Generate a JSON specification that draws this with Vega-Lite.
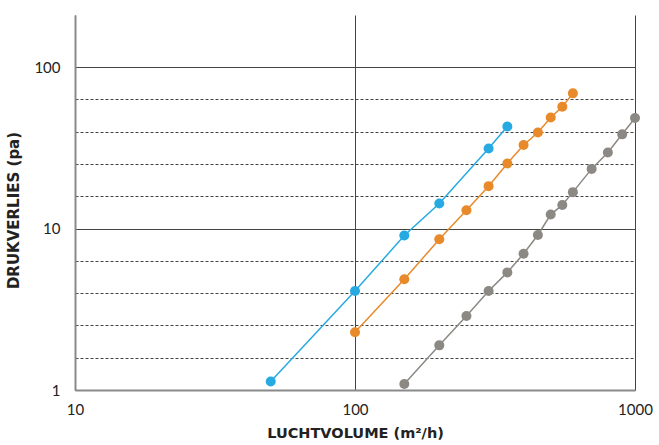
{
  "$schema": "https://vega.github.io/schema/vega-lite/v6.json",
  "width": 560,
  "height": 375,
  "autosize": "none",
  "padding": {"left": 75, "top": 15, "right": 24, "bottom": 55},
  "background": "white",
  "config": {"view": {"stroke": null}, "font": "Lato"},
  "data": {"values": [
    {"series": "A", "flow": 50, "dp": 1.13},
    {"series": "A", "flow": 100, "dp": 4.1},
    {"series": "A", "flow": 150, "dp": 9.05},
    {"series": "A", "flow": 200, "dp": 14.3},
    {"series": "A", "flow": 300, "dp": 31.3},
    {"series": "A", "flow": 350, "dp": 42.8},
    {"series": "B", "flow": 100, "dp": 2.28},
    {"series": "B", "flow": 150, "dp": 4.85},
    {"series": "B", "flow": 200, "dp": 8.57},
    {"series": "B", "flow": 250, "dp": 12.97},
    {"series": "B", "flow": 300, "dp": 18.3},
    {"series": "B", "flow": 350, "dp": 25.3},
    {"series": "B", "flow": 400, "dp": 32.9},
    {"series": "B", "flow": 450, "dp": 39.3},
    {"series": "B", "flow": 500, "dp": 48.7},
    {"series": "B", "flow": 550, "dp": 56.8},
    {"series": "B", "flow": 600, "dp": 68.7},
    {"series": "C", "flow": 150, "dp": 1.09},
    {"series": "C", "flow": 200, "dp": 1.89},
    {"series": "C", "flow": 250, "dp": 2.87},
    {"series": "C", "flow": 300, "dp": 4.1},
    {"series": "C", "flow": 350, "dp": 5.35},
    {"series": "C", "flow": 400, "dp": 6.98},
    {"series": "C", "flow": 450, "dp": 9.12},
    {"series": "C", "flow": 500, "dp": 12.2},
    {"series": "C", "flow": 550, "dp": 14.0},
    {"series": "C", "flow": 600, "dp": 16.8},
    {"series": "C", "flow": 700, "dp": 23.4},
    {"series": "C", "flow": 800, "dp": 29.6},
    {"series": "C", "flow": 900, "dp": 38.3},
    {"series": "C", "flow": 1000, "dp": 48.3}
  ]},
  "encoding": {
    "x": {
      "field": "flow", "type": "quantitative",
      "scale": {"type": "log", "domain": [10, 1000], "nice": false},
      "axis": {
        "values": [10, 100, 1000],
        "format": "d",
        "grid": true, "gridColor": "#444444", "gridWidth": 1, "gridOpacity": 1,
        "domainColor": "#8a8a8a", "domainWidth": 2,
        "ticks": false,
        "labelPadding": 12, "labelFontSize": 15, "labelColor": "#222222",
        "labelFlush": false, "labelOverlap": false,
        "title": "LUCHTVOLUME (m²/h)",
        "titleFont": "DejaVu Sans",
        "titleFontSize": 14.5, "titleFontWeight": "bold", "titleColor": "#222222",
        "titlePadding": 9
      }
    },
    "y": {
      "field": "dp", "type": "quantitative",
      "scale": {"type": "log", "domain": [1, 210], "nice": false},
      "axis": {
        "values": [1, 1.585, 2.512, 3.981, 6.31, 10, 15.85, 25.12, 39.81, 63.1, 100],
        "labelExpr": "datum.value == 1 || datum.value == 10 || datum.value == 100 ? format(datum.value, 'd') : ''",
        "grid": true, "gridColor": "#444444", "gridWidth": 1, "gridOpacity": 1,
        "gridDash": {"condition": {"test": "datum.value == 1 || datum.value == 10 || datum.value == 100", "value": []}, "value": [3, 2]},
        "domainColor": "#8a8a8a", "domainWidth": 2,
        "ticks": false,
        "labelPadding": 15, "labelFontSize": 15, "labelColor": "#222222",
        "labelOverlap": false,
        "title": "DRUKVERLIES (pa)",
        "titleFont": "DejaVu Sans",
        "titleFontSize": 15, "titleFontWeight": "bold", "titleColor": "#222222",
        "titlePadding": 12,
        "titleY": 195
      }
    },
    "color": {
      "field": "series", "type": "nominal",
      "scale": {"domain": ["A", "B", "C"], "range": ["#27aae1", "#e8892a", "#8c8984"]},
      "legend": null
    }
  },
  "layer": [
    {"mark": {"type": "line", "strokeWidth": 1.5}},
    {"mark": {"type": "point", "filled": true, "opacity": 1, "size": 100}}
  ]
}
